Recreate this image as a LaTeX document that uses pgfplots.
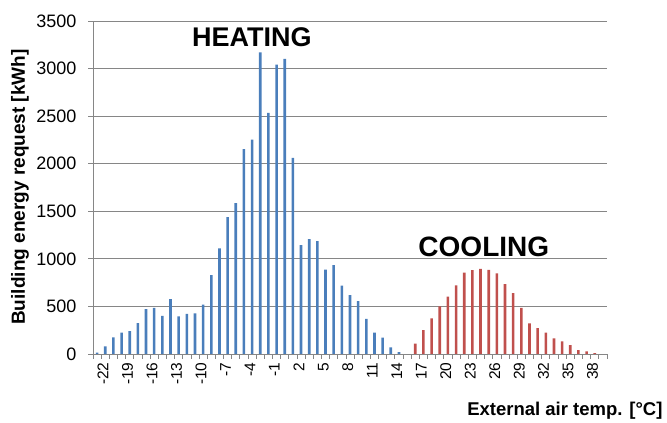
\documentclass[border=0pt]{standalone}
\usepackage{pgfplots}
\pgfplotsset{compat=1.18}
\usepackage{fontspec}
\setmainfont{Liberation Sans}
\definecolor{heat}{HTML}{4A7EBB}
\definecolor{cool}{HTML}{C0504D}
\definecolor{gridgray}{HTML}{868686}
\begin{document}
\begin{tikzpicture}
\useasboundingbox (0,0) rectangle (667pt,423pt);
\begin{axis}[
    at={(93pt,69pt)}, anchor=south west,
    scale only axis,
    width=514pt, height=333pt,
    xmin=-22.5, xmax=40.5,
    ymin=0, ymax=3500,
    ytick={0,500,...,3500},
    xtick={-22,-19,...,38},
    minor xtick={-22.5,-21.5,...,40.5},
    major x tick style={draw=none},
    minor tick length=5pt,
    major tick length=5pt,
    tick align=outside,
    axis x line*=bottom,
    axis y line*=left,
    axis line style={gridgray, line width=0.8pt},
    every tick/.style={gridgray, line width=0.8pt},
    ymajorgrids=true,
    grid style={gridgray, line width=0.8pt},
    clip=false,
    /pgf/number format/assume math mode=true,
    /pgf/number format/1000 sep={},
    y tick label style={font=\fontsize{18}{20}\selectfont, xshift=-8pt},
    x tick label style={font=\fontsize{15.5}{17}\selectfont, rotate=90, anchor=east, yshift=-6pt},
    ]
    % heating
    \addplot[ybar, bar width=2.6pt, bar shift=0pt, fill=heat, draw=none] coordinates {
        (-22,15) (-21,80) (-20,175) (-19,224) (-18,241) (-17,325) (-16,472) (-15,486)
        (-14,402) (-13,577) (-12,395) (-11,423) (-10,427) (-9,518) (-8,830) (-7,1110)
        (-6,1438) (-5,1585) (-4,2153) (-3,2254) (-2,3171) (-1,2534) (0,3042) (1,3101)
        (2,2062) (3,1145) (4,1208) (5,1187) (6,886) (7,935) (8,718) (9,620)
        (10,557) (11,368) (12,224) (13,172) (14,70) (15,21)
    };
    % cooling
    \addplot[ybar, bar width=2.6pt, bar shift=0pt, fill=cool, draw=none] coordinates {
        (17,110) (18,252) (19,375) (20,500) (21,602) (22,721) (23,854) (24,882)
        (25,896) (26,885) (27,847) (28,735) (29,640) (30,486) (31,322) (32,273)
        (33,224) (34,164) (35,133) (36,94) (37,42) (38,28) (39,10)
    };
    \node[font=\bfseries\fontsize{27}{30}\selectfont] at (axis cs:-3.04,3328) {HEATING};
    \node[font=\bfseries\fontsize{28}{30}\selectfont] at (axis cs:25.4,1123) {COOLING};
\end{axis}
\node[font=\bfseries\fontsize{19}{20}\selectfont, rotate=90] at (20pt,236pt) {Building energy request [kWh]};
\node[font=\bfseries\fontsize{18.5}{20}\selectfont, anchor=east] at (666pt,12pt) {External air temp. [°C]};
\end{tikzpicture}
\end{document}
